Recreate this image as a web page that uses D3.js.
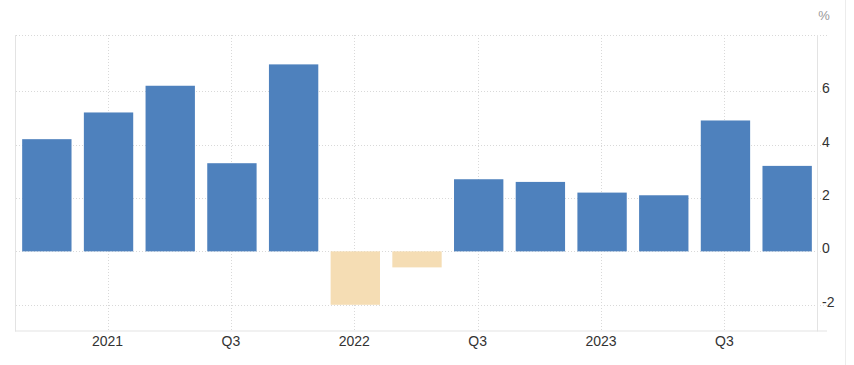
<!DOCTYPE html>
<html>
<head>
<meta charset="utf-8">
<script src="https://cdn.jsdelivr.net/npm/d3@7"></script>
<style>
  html, body { margin: 0; padding: 0; background: #fff; }
  svg { display: block; font-family: "Liberation Sans", Arial, Helvetica, sans-serif; }
</style>
</head>
<body>
<svg id="chart" width="854" height="365"></svg>
<script>
const quarters = ["2020Q4","2021Q1","2021Q2","2021Q3","2021Q4","2022Q1","2022Q2","2022Q3","2022Q4","2023Q1","2023Q2","2023Q3","2023Q4"];
const values = [4.2, 5.2, 6.2, 3.3, 7.0, -2.0, -0.6, 2.7, 2.6, 2.2, 2.1, 4.9, 3.2];
const xTickQuarters = ["2021Q1","2021Q3","2022Q1","2022Q3","2023Q1","2023Q3"];
const xTickLabels = ["2021","Q3","2022","Q3","2023","Q3"];
const yTicks = [-2, 0, 2, 4, 6];
const yDomain = [-3, 8.1];
const unitLabel = "%";

(function () {
const svg = d3.select("#chart");
const pLeft = 16, pRight = 818, pTop = 35, pBottom = 331.5;

const x = d3.scaleBand().domain(quarters).range([pLeft, pRight]).paddingInner(0.2).paddingOuter(0.1);
const y = d3.scaleLinear().domain(yDomain).range([pBottom, pTop]);

// outer frame line on right
svg.append("line").attr("x1", 845.5).attr("x2", 845.5).attr("y1", 0).attr("y2", 365)
  .attr("stroke", "#ececec").attr("stroke-width", 1);

// horizontal gridlines (ticks + top border)
const gridY = yTicks.map(d => Math.round(y(d)) + 0.5).concat([pTop + 0.5]);
svg.append("g").selectAll("line").data(gridY).join("line")
  .attr("x1", pLeft).attr("x2", 827)
  .attr("y1", d => d).attr("y2", d => d)
  .attr("stroke", "#d9d9d9").attr("stroke-width", 1).attr("stroke-dasharray", "1,2");

// vertical gridlines
svg.append("g").selectAll("line").data(xTickQuarters).join("line")
  .attr("x1", d => Math.round(x(d) + x.bandwidth() / 2 - 1) + 0.5)
  .attr("x2", d => Math.round(x(d) + x.bandwidth() / 2 - 1) + 0.5)
  .attr("y1", pTop).attr("y2", pBottom)
  .attr("stroke", "#d9d9d9").attr("stroke-width", 1).attr("stroke-dasharray", "1,2");

// bars
svg.append("g").selectAll("rect").data(quarters).join("rect")
  .attr("x", (d) => x(d))
  .attr("width", x.bandwidth())
  .attr("y", (d, i) => Math.min(y(values[i]), y(0)))
  .attr("height", (d, i) => Math.abs(y(values[i]) - y(0)))
  .attr("fill", (d, i) => values[i] >= 0 ? "#4e81bd" : "#f5ddb4");

// plot border lines: left, right axis, bottom
svg.append("line").attr("x1", pLeft - 0.5).attr("x2", pLeft - 0.5).attr("y1", pTop).attr("y2", pBottom)
  .attr("stroke", "#e3e3e3");
svg.append("line").attr("x1", pRight - 0.5).attr("x2", pRight - 0.5).attr("y1", pTop).attr("y2", pBottom)
  .attr("stroke", "#e3e3e3");
svg.append("line").attr("x1", pLeft - 1).attr("x2", 827).attr("y1", 331).attr("y2", 331)
  .attr("stroke", "#e3e3e3");

// y axis labels (right)
const yAxis = d3.axisRight(y).tickValues(yTicks).tickSize(0).tickPadding(0).tickFormat(d => String(d));
const gy = svg.append("g").attr("transform", "translate(822,0)").call(yAxis);
gy.select(".domain").remove();
gy.selectAll("text").attr("font-size", 14).attr("fill", "#333").attr("font-family", "Liberation Sans, Arial, sans-serif").attr("dy", "0.32em").attr("x", 0)
  .attr("transform", "translate(0,-3)");

// unit label
svg.append("text").attr("x", 824).attr("y", 20).attr("text-anchor", "middle")
  .attr("font-size", 13).attr("fill", "#999").text(unitLabel);

// x axis labels
const xAxis = d3.axisBottom(x).tickValues(xTickQuarters).tickSize(0).tickPadding(0)
  .tickFormat((d) => xTickLabels[xTickQuarters.indexOf(d)]);
const gx = svg.append("g").attr("transform", "translate(-1,336)").call(xAxis);
gx.select(".domain").remove();
gx.selectAll("text").attr("font-size", 14).attr("fill", "#333").attr("font-family", "Liberation Sans, Arial, sans-serif").attr("dy", "0.71em");
})();
</script>
</body>
</html>
